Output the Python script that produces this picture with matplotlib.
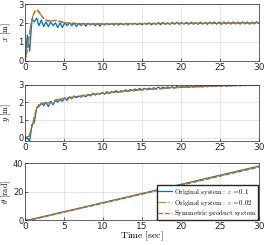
import numpy as np
import matplotlib.pyplot as plt

plt.rcParams['mathtext.fontset'] = 'cm'
plt.rcParams['font.size'] = 6.5

# time grid for the fast-oscillating eps=0.1 run (values read at every 0.3 s)
t_fast = np.arange(0, 30.01, 0.3)
x_eps1 = [0.0, 1.35, 0.5, 2.2, 2.05, 2.25, 1.85, 2.15, 1.8, 2.05,
          1.8, 2.05, 1.85, 2.0, 1.75, 2.0, 1.75, 2.0, 1.85, 2.0,
          1.85, 2.0, 1.8, 1.98, 1.85, 1.98, 1.82, 1.98, 1.88, 1.97,
          1.85, 1.97, 1.82, 1.97, 1.88, 1.97, 1.9, 1.97, 1.88, 1.98,
          1.88, 1.98, 1.9, 1.98, 1.88, 1.98, 1.92, 1.98, 1.9, 1.98,
          1.9, 1.98, 1.92, 2.0, 1.9, 1.98, 1.92, 2.02, 1.9, 2.02,
          1.92, 2.0, 1.92, 2.02, 1.93, 2.03, 1.92, 2.02, 1.93, 2.03,
          1.92, 2.04, 1.93, 2.02, 1.92, 2.04, 1.93, 2.03, 1.92, 2.04,
          1.94, 2.05, 1.93, 2.04, 1.92, 2.05, 1.94, 2.04, 1.93, 2.05,
          1.94, 2.04, 1.93, 2.05, 1.94, 2.05, 1.93, 2.04, 1.94, 2.06,
          1.96]
y_eps1 = [0.0, -0.05, -0.2, 0.75, 0.85, 1.7, 1.75, 1.95, 1.8, 2.0,
          1.75, 2.05, 1.85, 2.1, 2.0, 2.15, 2.05, 2.25, 2.1, 2.3,
          2.2, 2.35, 2.25, 2.35, 2.28, 2.4, 2.3, 2.45, 2.35, 2.5,
          2.4, 2.5, 2.45, 2.55, 2.45, 2.6, 2.5, 2.6, 2.55, 2.65,
          2.55, 2.65, 2.6, 2.7, 2.62, 2.72, 2.65, 2.75, 2.68, 2.78,
          2.7, 2.78, 2.72, 2.8, 2.72, 2.82, 2.75, 2.85, 2.76, 2.86,
          2.78, 2.87, 2.8, 2.88, 2.8, 2.9, 2.82, 2.9, 2.83, 2.92,
          2.84, 2.92, 2.85, 2.94, 2.86, 2.95, 2.86, 2.95, 2.87, 2.97,
          2.88, 2.97, 2.9, 2.98, 2.9, 2.99, 2.9, 2.99, 2.91, 3.0,
          2.92, 3.0, 2.92, 3.0, 2.93, 3.01, 2.93, 3.01, 2.94, 3.01,
          2.96]

# smooth responses (eps=0.02 and symmetric product system)
t_slow = [0, 0.25, 0.5, 0.75, 1.0, 1.25, 1.5, 1.75, 2.0, 2.5, 3.0, 3.5, 4.0,
          4.5, 5.0, 6.0, 7.0, 8.0, 10.0, 12.0, 15.0, 20.0, 25.0, 30.0]
x_eps2 = [0.0, 0.5, 1.2, 1.9, 2.35, 2.6, 2.7, 2.62, 2.45, 2.18, 2.1, 2.12,
          2.13, 2.08, 2.02, 1.98, 1.95, 1.94, 1.94, 1.95, 1.96, 1.97, 1.99, 2.0]
x_sym = [0.0, 0.45, 1.15, 1.85, 2.32, 2.6, 2.68, 2.6, 2.43, 2.17, 2.1, 2.11,
         2.12, 2.07, 2.01, 1.97, 1.95, 1.94, 1.94, 1.95, 1.96, 1.97, 1.99, 2.0]
y_eps2 = [0.0, 0.02, 0.08, 0.4, 0.8, 1.3, 1.65, 1.85, 1.92, 1.95, 1.97, 2.05,
          2.12, 2.17, 2.21, 2.28, 2.34, 2.4, 2.5, 2.58, 2.7, 2.84, 2.92, 2.97]
y_sym = [0.0, 0.02, 0.07, 0.38, 0.78, 1.28, 1.63, 1.84, 1.91, 1.95, 1.97,
         2.05, 2.12, 2.17, 2.21, 2.28, 2.34, 2.4, 2.5, 2.58, 2.7, 2.84, 2.92,
         2.97]

t_th = [0, 0.5, 1.0, 30.0]
th_eps1 = [0.0, 0.2, 0.9, 38.0]
th_eps2 = [0.0, 0.1, 0.7, 37.6]
th_sym = [0.0, 0.05, 0.6, 37.3]

labels = [r'$\mathrm{Original\ system{:}}\ \varepsilon=0.1$',
          r'$\mathrm{Original\ system{:}}\ \varepsilon=0.02$',
          r'$\mathrm{Symmetric\ product\ system}$']

c_blue = '#0072BD'
c_green = '#77AC30'
c_orange = '#D95319'

fig = plt.figure(figsize=(2.64, 2.45), dpi=100)
ax1 = fig.add_axes([0.0947, 0.753, 0.886, 0.2306])
ax2 = fig.add_axes([0.0947, 0.4265, 0.886, 0.2286])
ax3 = fig.add_axes([0.0947, 0.1008, 0.886, 0.2327])

ax1.plot(t_fast, x_eps1, color=c_blue, lw=0.9)
ax1.plot(t_slow, x_eps2, color=c_green, lw=0.9, ls='-.')
ax1.plot(t_slow, x_sym, color=c_orange, lw=0.9, ls='--')
ax1.set_ylim(0, 3)
ax1.set_yticks([0, 1, 2, 3])
ax1.set_ylabel(r'$x\ \mathrm{[m]}$', fontsize=6)

ax2.plot(t_fast, y_eps1, color=c_blue, lw=0.9)
ax2.plot(t_slow, y_eps2, color=c_green, lw=0.9, ls='-.')
ax2.plot(t_slow, y_sym, color=c_orange, lw=0.9, ls='--')
ax2.set_ylim(-0.17, 3)
ax2.set_yticks([0, 1, 2, 3])
ax2.set_ylabel(r'$y\ \mathrm{[m]}$', fontsize=6)

l1, = ax3.plot(t_th, th_eps1, color=c_blue, lw=0.9)
l2, = ax3.plot(t_th, th_eps2, color=c_green, lw=0.9, ls='-.')
l3, = ax3.plot(t_th, th_sym, color=c_orange, lw=0.9, ls='--')
ax3.set_ylim(0, 40)
ax3.set_yticks([0, 20, 40])
ax3.set_ylabel(r'$\theta\ \mathrm{[rad]}$', fontsize=6)
ax3.set_xlabel(r'$\mathrm{Time\ [sec]}$', fontsize=7, labelpad=-1)
ax3.legend([l1, l2, l3], labels, loc='lower right', fontsize=5,
           fancybox=False, edgecolor='#262626', framealpha=1,
           borderpad=0.2, labelspacing=0.1, handlelength=2.0,
           handletextpad=0.3, borderaxespad=0.1)

for ax in (ax1, ax2, ax3):
    ax.set_xlim(0, 30)
    ax.set_xticks([0, 5, 10, 15, 20, 25, 30])
    ax.grid(True, color='#dcdcdc', lw=0.5)
    ax.tick_params(direction='in', length=2, width=0.5, pad=1.5,
                   colors='#262626', labelsize=6.5)
    ax.tick_params(axis='y', labelsize=6, pad=1)
    ax.yaxis.set_label_coords(-0.05, 0.5)
    for s in ax.spines.values():
        s.set_color('#262626')
        s.set_linewidth(0.5)

fig.savefig('out.png', dpi=100)
